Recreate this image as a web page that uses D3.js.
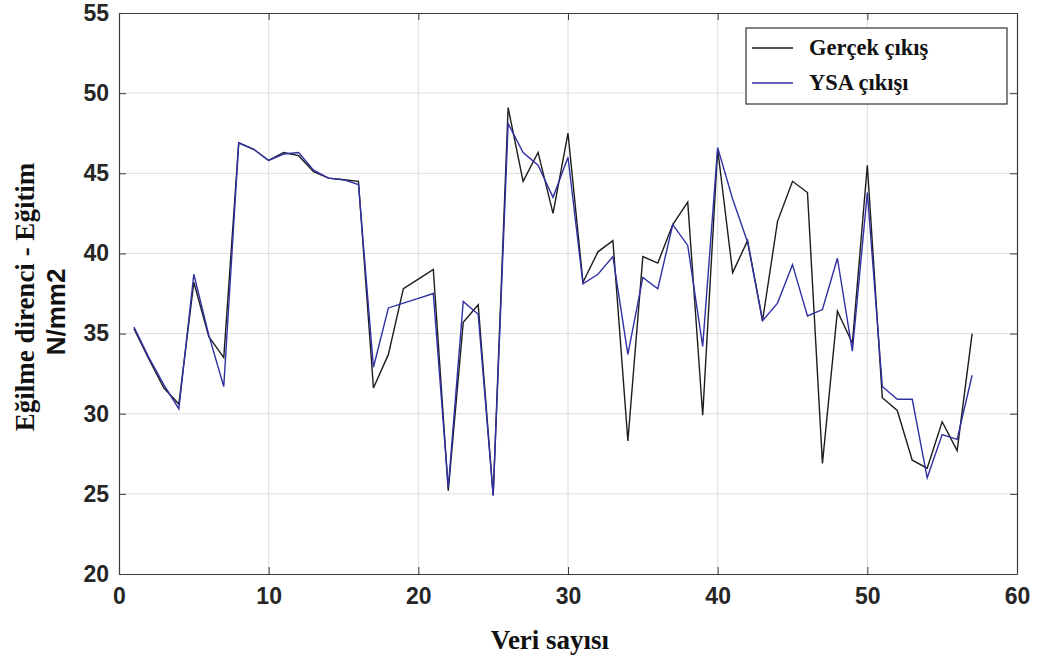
<!DOCTYPE html>
<html>
<head>
<meta charset="utf-8">
<script src="https://cdn.jsdelivr.net/npm/d3@7"></script>
<style>
  html, body { margin: 0; padding: 0; background: #fff; }
  svg { display: block; }
</style>
</head>
<body>
<svg id="chart" width="1038" height="664"></svg>
<script>
// Sample index (Veri sayısı) 1..57
const sampleIndex = d3.range(1, 58);

// Measured bending strength (Gerçek çıkış), N/mm2
const gercekCikis = [
  35.3, 33.4, 31.6, 30.6, 38.2, 34.8, 33.5, 46.9, 46.5, 45.8,
  46.3, 46.1, 45.1, 44.7, 44.6, 44.5, 31.6, 33.7, 37.8, 38.4,
  39.0, 25.2, 35.7, 36.8, 24.9, 49.1, 44.5, 46.3, 42.5, 47.5,
  38.2, 40.1, 40.8, 28.3, 39.8, 39.4, 41.8, 43.2, 29.9, 46.5,
  38.8, 40.8, 35.8, 42.0, 44.5, 43.8, 26.9, 36.4, 34.4, 45.5,
  31.0, 30.2, 27.1, 26.6, 29.5, 27.7, 35.0
];

// Neural network prediction (YSA çıkışı), N/mm2
const ysaCikisi = [
  35.4, 33.5, 31.8, 30.3, 38.7, 34.9, 31.7, 46.9, 46.5, 45.8,
  46.2, 46.3, 45.2, 44.7, 44.6, 44.3, 32.9, 36.6, 36.9, 37.2,
  37.5, 25.4, 37.0, 36.2, 24.9, 48.1, 46.3, 45.5, 43.5, 46.0,
  38.1, 38.7, 39.8, 33.7, 38.5, 37.8, 41.8, 40.5, 34.2, 46.6,
  43.4, 40.7, 35.8, 36.9, 39.3, 36.1, 36.5, 39.7, 33.9, 43.8,
  31.7, 30.9, 30.9, 26.0, 28.7, 28.4, 32.4
];

const xTicks = [0, 10, 20, 30, 40, 50, 60];
const yTicks = [20, 25, 30, 35, 40, 45, 50, 55];

const seriesNames = ["Gerçek çıkış", "YSA çıkışı"];
const seriesColors = ["#1c1c1c", "#3030a3"];

const svg = d3.select("#chart");
const margin = { left: 119, top: 13, right: 1038 - 1017, bottom: 664 - 574 };
const W = 1038, H = 664;
const plotW = W - margin.left - margin.right;
const plotH = H - margin.top - margin.bottom;

const x = d3.scaleLinear().domain([0, 60]).range([0, plotW]);
const y = d3.scaleLinear().domain([20, 55]).range([plotH, 0]);

const g = svg.append("g").attr("transform", `translate(${margin.left},${margin.top})`);

// grid lines
g.append("g")
  .selectAll("line")
  .data(xTicks.slice(1, -1))
  .join("line")
  .attr("x1", d => x(d)).attr("x2", d => x(d))
  .attr("y1", 0).attr("y2", plotH)
  .attr("stroke", "#dedede").attr("stroke-width", 1);

g.append("g")
  .selectAll("line")
  .data(yTicks.slice(1, -1))
  .join("line")
  .attr("x1", 0).attr("x2", plotW)
  .attr("y1", d => y(d)).attr("y2", d => y(d))
  .attr("stroke", "#dedede").attr("stroke-width", 1);

// axes with inward ticks on all four sides
const tickFont = "'Liberation Sans', Arial, sans-serif";
const serif = "'Liberation Serif', 'Times New Roman', serif";
const axisColor = "#3a3a3a";

const bottomAxis = d3.axisBottom(x).tickValues(xTicks).tickSize(-7).tickPadding(14).tickSizeOuter(0);
const leftAxis = d3.axisLeft(y).tickValues(yTicks).tickSize(-7).tickPadding(10).tickSizeOuter(0);
const topAxis = d3.axisTop(x).tickValues(xTicks).tickSize(-7).tickFormat("").tickSizeOuter(0);
const rightAxis = d3.axisRight(y).tickValues(yTicks).tickSize(-7).tickFormat("").tickSizeOuter(0);

function styleAxis(sel) {
  sel.select(".domain").attr("stroke", axisColor).attr("stroke-width", 1.2);
  sel.selectAll(".tick line").attr("stroke", axisColor).attr("stroke-width", 1);
  sel.selectAll(".tick text")
    .attr("fill", "#262626")
    .style("font-family", tickFont)
    .style("font-weight", "bold")
    .style("font-size", "23px");
}

g.append("g").attr("transform", `translate(0,${plotH})`).call(bottomAxis).call(styleAxis);
g.append("g").call(leftAxis).call(styleAxis);
g.append("g").call(topAxis).call(styleAxis);
g.append("g").attr("transform", `translate(${plotW},0)`).call(rightAxis).call(styleAxis);

// data lines
const line = d3.line().x((d, i) => x(sampleIndex[i])).y(d => y(d));

[gercekCikis, ysaCikisi].forEach((vals, k) => {
  g.append("path")
    .datum(vals)
    .attr("fill", "none")
    .attr("stroke", seriesColors[k])
    .attr("stroke-width", 1.4)
    .attr("stroke-linejoin", "miter")
    .attr("d", line);
});

// legend
const legX = 746 - margin.left, legY = 28 - margin.top;
const legend = g.append("g").attr("transform", `translate(${legX},${legY})`);
legend.append("rect")
  .attr("width", 261).attr("height", 76)
  .attr("fill", "#fff").attr("stroke", "#333").attr("stroke-width", 1.2);
seriesNames.forEach((name, k) => {
  const ly = 20 + k * 35;
  legend.append("line")
    .attr("x1", 6).attr("x2", 47)
    .attr("y1", ly).attr("y2", ly)
    .attr("stroke", seriesColors[k]).attr("stroke-width", 1.4);
  legend.append("text")
    .attr("x", 63).attr("y", ly + 7)
    .style("font-family", serif)
    .style("font-weight", "bold")
    .style("font-size", "22.5px")
    .attr("fill", "#111")
    .text(name);
});

// axis titles
svg.append("text")
  .attr("x", 550)
  .attr("y", 649)
  .attr("text-anchor", "middle")
  .style("font-family", serif)
  .style("font-weight", "bold")
  .style("font-size", "27px")
  .attr("fill", "#111")
  .text("Veri sayısı");

svg.append("text")
  .attr("transform", `translate(34,${297}) rotate(-90)`)
  .attr("text-anchor", "middle")
  .style("font-family", serif)
  .style("font-weight", "bold")
  .style("font-size", "27px")
  .attr("fill", "#111")
  .text("Eğilme direnci - Eğitim");

svg.append("text")
  .attr("transform", `translate(65,${312}) rotate(-90)`)
  .attr("text-anchor", "middle")
  .style("font-family", tickFont)
  .style("font-weight", "bold")
  .style("font-size", "26px")
  .attr("fill", "#111")
  .text("N/mm2");
</script>
</body>
</html>
